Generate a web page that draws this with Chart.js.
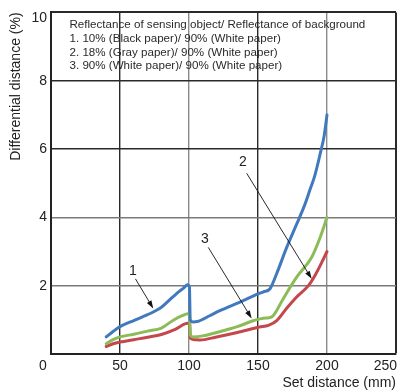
<!DOCTYPE html>
<html><head><meta charset="utf-8">
<script src="https://cdn.jsdelivr.net/npm/chart.js@4"></script>
<style>html,body{margin:0;padding:0;background:#fff}#wrap{width:400px;height:392px}</style>
</head><body><div id="wrap"><canvas id="c"></canvas></div>
<script>
// ---- data ----
const s1x = [40,45,50,60,70,80,85,91,96,99,100.3,100.9,103,106,115,122,137,150,154,158.7,163.5,170.8,178,184,188,191,195,198,200];
const s1y = [0.50,0.66,0.80,0.98,1.15,1.37,1.55,1.77,1.93,2.03,1.96,1.0,0.94,0.95,1.12,1.26,1.52,1.76,1.82,1.91,2.35,3.12,3.8,4.38,4.85,5.2,5.85,6.4,7.0];
const s2x = [40,45,50,60,70,80,88.6,95,99,100.4,101,103,110,122,135,147,154,158,161,168.3,178,188.9,195,200];
const s2y = [0.30,0.42,0.50,0.58,0.67,0.76,0.99,1.12,1.18,1.14,0.55,0.50,0.53,0.65,0.80,0.98,1.05,1.06,1.12,1.62,2.25,2.83,3.41,4.0];
const s3x = [40,45,50,60,70,80,90,99,100.4,101,104,108,120,135,151,157.5,163.6,170,176.8,186.5,191.3,196.2,200];
const s3y = [0.22,0.30,0.35,0.42,0.49,0.57,0.72,0.90,0.88,0.46,0.42,0.41,0.50,0.63,0.79,0.84,0.98,1.3,1.62,2.0,2.3,2.68,3.0];
const xTicks = [0,50,100,150,200,250];
const yTicks = [0,2,4,6,8,10];
const noteLines = [
  "Reflectance of sensing object/ Reflectance of background",
  "1. 10% (Black paper)/ 90% (White paper)",
  "2. 18% (Gray paper)/ 90% (White paper)",
  "3. 90% (White paper)/ 90% (White paper)"
];
const calloutLabels = ["1","2","3"];
const calloutLabelPos = [[59.4,2.44],[139.1,5.63],[111.6,3.36]];
const calloutFrom = [[61.2,2.2],[141.8,5.29],[114,3.12]];
const calloutTo = [[74.1,1.33],[188.9,2.2],[145.4,1.04]];

const pts = (xs, ys) => xs.map((x,i)=>({x, y: ys[i]}));
const FONT = "'Liberation Sans', Arial, sans-serif";

const overlay = {
  id: 'overlay',
  afterDraw(chart) {
    const {ctx, chartArea: a, scales: {x, y}} = chart;
    ctx.save();
    ctx.fillStyle = '#222';
    // edge tick labels
    ctx.font = '14px ' + FONT;
    ctx.textBaseline = 'middle';
    ctx.textAlign = 'center';
    ctx.fillText(String(xTicks[0]), x.getPixelForValue(xTicks[0]) - 8, a.bottom + 12);
    ctx.textAlign = 'right';
    ctx.fillText(String(xTicks[xTicks.length-1]), a.right + 1, a.bottom + 12);
    ctx.fillText(String(yTicks[yTicks.length-1]), a.left - 4, y.getPixelForValue(yTicks[yTicks.length-1]) + 6);
    // note text
    ctx.font = '11.6px ' + FONT;
    ctx.fillStyle = '#2a2a2a';
    ctx.textAlign = 'left';
    const ny = [25, 39, 52.5, 66];
    noteLines.forEach((t,i)=> ctx.fillText(t, a.left + 18.5, ny[i]));
    ctx.fillStyle = '#222';
    // callouts
    ctx.font = '14px ' + FONT;
    ctx.textAlign = 'center';
    calloutLabels.forEach((t,i)=>{
      ctx.fillText(t, x.getPixelForValue(calloutLabelPos[i][0]), y.getPixelForValue(calloutLabelPos[i][1]));
      const x0 = x.getPixelForValue(calloutFrom[i][0]), y0 = y.getPixelForValue(calloutFrom[i][1]);
      const x1 = x.getPixelForValue(calloutTo[i][0]), y1 = y.getPixelForValue(calloutTo[i][1]);
      const ang = Math.atan2(y1-y0, x1-x0);
      const L = 8, W = 2.6;
      ctx.strokeStyle = '#111';
      ctx.lineWidth = 0.9;
      ctx.beginPath();
      ctx.moveTo(x0,y0);
      ctx.lineTo(x1 - Math.cos(ang)*L*0.8, y1 - Math.sin(ang)*L*0.8);
      ctx.stroke();
      ctx.fillStyle = '#111';
      ctx.beginPath();
      ctx.moveTo(x1,y1);
      ctx.lineTo(x1 - Math.cos(ang)*L + Math.sin(ang)*W, y1 - Math.sin(ang)*L - Math.cos(ang)*W);
      ctx.lineTo(x1 - Math.cos(ang)*L - Math.sin(ang)*W, y1 - Math.sin(ang)*L + Math.cos(ang)*W);
      ctx.closePath();
      ctx.fill();
      ctx.fillStyle = '#222';
    });
    ctx.restore();
  }
};

const ds = (data, color) => ({
  data, borderColor: color, backgroundColor: color, borderWidth: 3,
  pointRadius: 0, fill: false, cubicInterpolationMode: 'monotone', borderCapStyle: 'round', borderJoinStyle: 'round'
});

new Chart(document.getElementById('c'), {
  type: 'line',
  data: {
    datasets: [
      ds(pts(s1x, s1y), '#4079bd'),
      ds(pts(s2x, s2y), '#8cbb57'),
      ds(pts(s3x, s3y), '#c4474b')
    ]
  },
  options: {
    responsive: true, maintainAspectRatio: false, animation: false,
    layout: { padding: { left: 0, right: 4, top: 10, bottom: 0 } },
    plugins: { legend: { display: false }, tooltip: { enabled: false } },
    scales: {
      x: {
        type: 'linear', min: 0, max: 250,
        afterBuildTicks: s => { s.ticks = xTicks.map(v=>({value:v})); },
        afterFit: s => { s.height = 38; },
        ticks: {
          color: '#222', font: { family: FONT, size: 14 }, padding: 4, maxRotation: 0,
          callback: v => (v === xTicks[0] || v === xTicks[xTicks.length-1]) ? '' : String(v)
        },
        grid: {
          drawTicks: false,
          color: c => { const v = c.tick && c.tick.value; return (v===100||v===200) ? '#8a8a8a' : '#2a2a2a'; },
          lineWidth: c => { const v = c.tick && c.tick.value; return (v===250) ? 2 : 1.4; }
        },
        border: { color: '#222', width: 2 },
        title: { display: true, text: 'Set distance (mm)', align: 'end', color: '#222',
          font: { family: FONT, size: 14 }, padding: { top: 0, bottom: 0 } }
      },
      y: {
        type: 'linear', min: 0, max: 10,
        afterBuildTicks: s => { s.ticks = yTicks.map(v=>({value:v})); },
        afterFit: s => { s.width = 51; },
        ticks: {
          color: '#222', font: { family: FONT, size: 14 }, padding: 4,
          callback: v => (v === yTicks[0] || v === yTicks[yTicks.length-1]) ? '' : String(v)
        },
        grid: {
          drawTicks: false,
          color: c => { const v = c.tick && c.tick.value; return (v===2||v===4) ? '#7a7a7a' : '#2a2a2a'; },
          lineWidth: c => { const v = c.tick && c.tick.value; return (v===10) ? 2 : 1.4; }
        },
        border: { color: '#222', width: 2 },
        title: { display: true, text: 'Differential distance (%)', align: 'end', color: '#222',
          font: { family: FONT, size: 14 }, padding: { top: 8, bottom: 0 } }
      }
    }
  },
  plugins: [overlay]
});
</script>
</body></html>
